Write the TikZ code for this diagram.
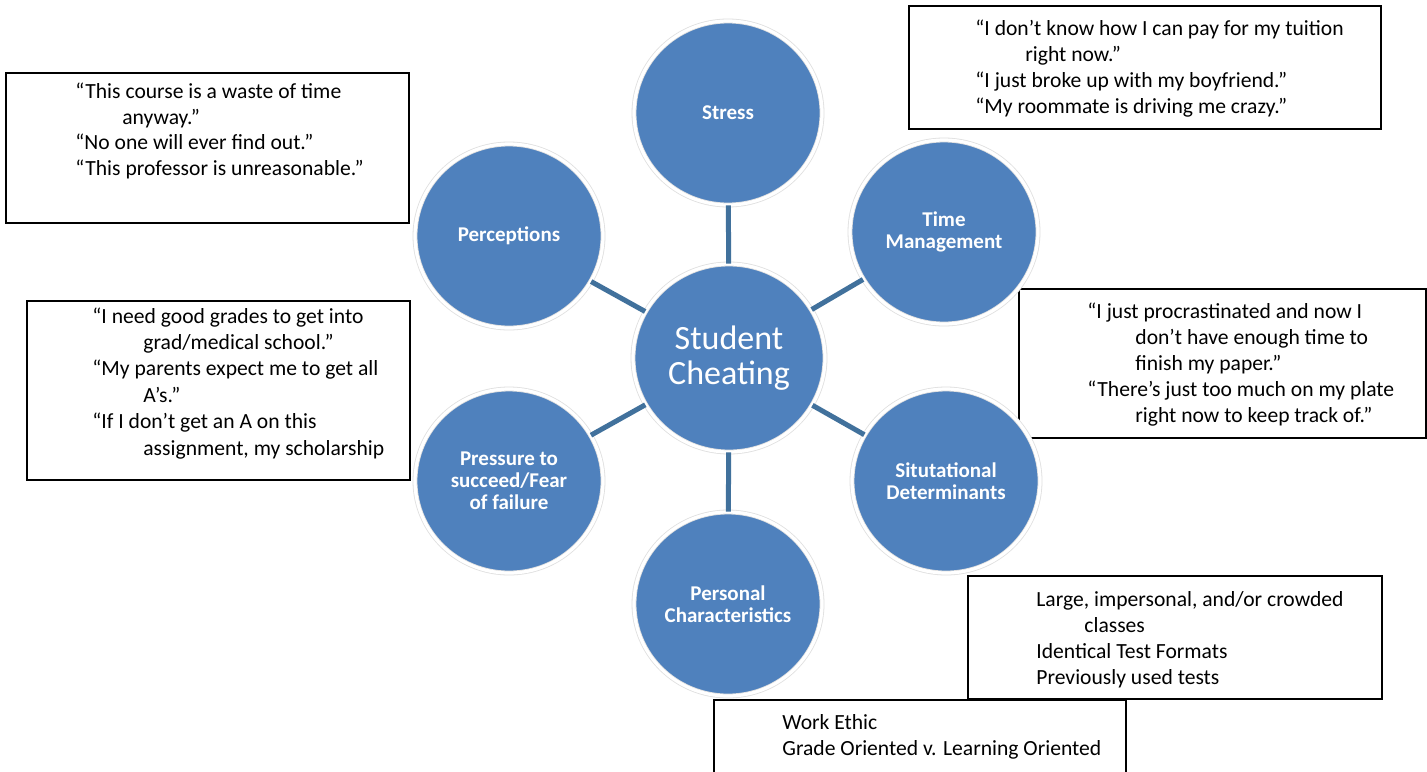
\documentclass[tikz,border=0pt]{standalone}
\usepackage{fontspec}
\setmainfont{Carlito}
\usetikzlibrary{shapes.geometric}

\definecolor{bubbleblue}{HTML}{4F81BD}
\definecolor{linkblue}{HTML}{41719C}

\tikzset{
  bubble/.style={ellipse, fill=bubbleblue, draw=gray!25, double=white, double distance=1.6pt,
    minimum width=94pt, minimum height=92pt, inner sep=0pt, text=white, align=center,
    font=\fontsize{10.5}{11}\selectfont\bfseries},
  hub/.style={bubble, minimum width=96pt, minimum height=94pt, font=\fontsize{17}{17.5}\selectfont},
  link/.style={linkblue, line width=2.5pt},
  quotebox/.style={draw=black, line width=0.9pt, fill=white, anchor=north west, inner sep=0pt},
  % anchored at the baseline of the last line
  quotetext/.style={anchor=base west, align=left, inner sep=0pt, font=\fontsize{10.8}{13}\selectfont},
}

\begin{document}
\begin{tikzpicture}[x=0.5pt, y=-0.5pt]

    % Page frame, same size as the reference
    \path[use as bounding box, fill=white] (0,0) rectangle (1427,771);

    % Quote boxes
    \node[quotebox, minimum width=201.5pt, minimum height=75pt] (perceptbox) at (5,72) {};
    \node[quotebox, minimum width=236pt, minimum height=61.5pt] (stressbox) at (908,5) {};
    \node[quotebox, minimum width=191.5pt, minimum height=89.5pt] (pressurebox) at (26,300) {};
    \node[quotebox, minimum width=203.5pt, minimum height=74.5pt] (timebox) at (1018,288) {};
    \node[quotebox, minimum width=207pt, minimum height=61.5pt] (situationbox) at (967,575) {};
    \node[quotebox, minimum width=206pt, minimum height=45.5pt] (personalbox) at (713,699) {};

    % Quote texts
    \node[quotetext, font=\fontsize{10.8}{12.7}\selectfont] (percepttext) at (75,175)
        {“This course is a waste of time\\\hspace*{23.5pt}anyway.”\\“No one will ever find out.”\\“This professor is unreasonable.”};
    \node[quotetext] (stresstext) at (975,113)
        {“I don’t know how I can pay for my tuition\\\hspace*{25pt}right now.”\\“I just broke up with my boyfriend.”\\“My roommate is driving me crazy.”};
    \node[quotetext, font=\fontsize{10.8}{13.2}\selectfont] (pressuretext) at (92,455)
        {“I need good grades to get into\\\hspace*{25.5pt}grad/medical school.”\\“My parents expect me to get all\\\hspace*{25.5pt}A’s.”\\“If I don’t get an A on this\\\hspace*{25.5pt}assignment, my scholarship};
    \node[quotetext] (timetext) at (1087,422)
        {“I just procrastinated and now I\\\hspace*{24pt}don’t have enough time to\\\hspace*{24pt}finish my paper.”\\“There’s just too much on my plate\\\hspace*{24pt}right now to keep track of.”};
    \node[quotetext] (situationtext) at (1036,684)
        {Large, impersonal, and/or crowded\\\hspace*{24pt}classes\\Identical Test Formats\\Previously used tests};
    \node[quotetext, font=\fontsize{10.8}{12.6}\selectfont] (personaltext) at (782,755)
        {Work Ethic\\Grade Oriented v. Learning Oriented};

    % Hub and bubbles
    \node[hub] (hub) at (729,358) {Student\\Cheating};
    \node[bubble] (stress) at (728,113) {Stress};
    \node[bubble] (timemgmt) at (944,232) {Time\\Management};
    \node[bubble] (situation) at (946,481) {Situtational\\Determinants};
    \node[bubble] (personal) at (728,604) {Personal\\Characteristics};
    \node[bubble] (pressure) at (509,481) {Pressure to\\succeed/Fear\\of failure};
    \node[bubble] (perception) at (509,236) {Perceptions};

    % Spokes
    \foreach \n in {stress,timemgmt,situation,personal,pressure,perception}
        \draw[link] (hub) -- (\n);

\end{tikzpicture}
\end{document}
